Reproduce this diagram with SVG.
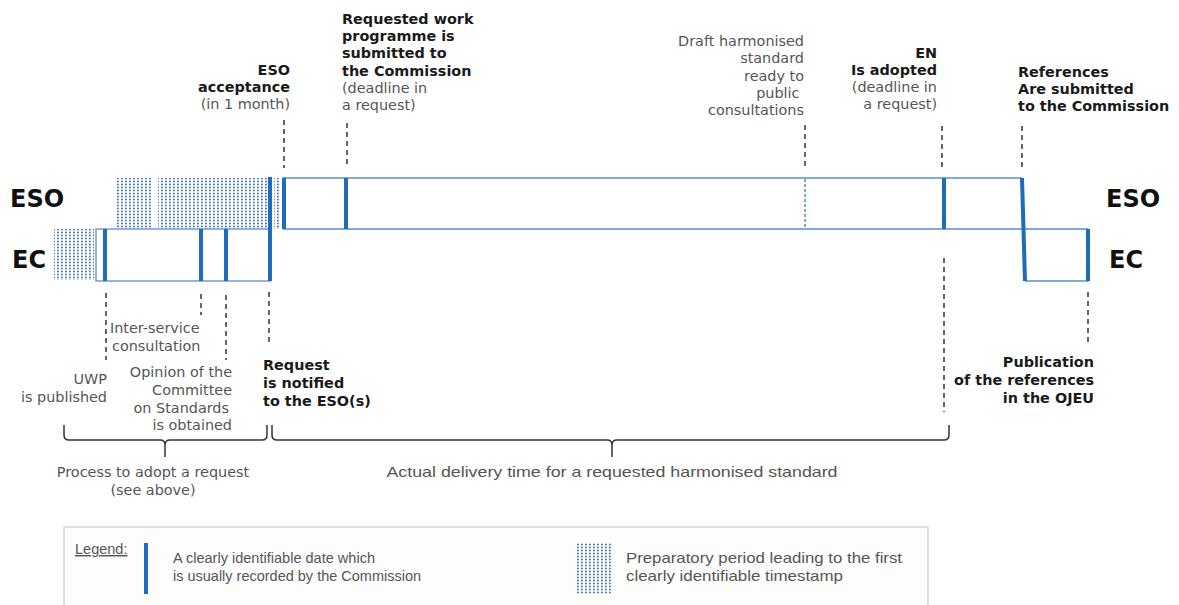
<svg xmlns="http://www.w3.org/2000/svg" width="1179" height="605" viewBox="0 0 1179 605">
<style>
.lbl{font-family:"DejaVu Sans",Verdana,sans-serif;font-size:14.4px;fill:#555}
.b{font-weight:bold;fill:#1a1a1a}
.big{font-family:"DejaVu Sans",Verdana,sans-serif;font-size:24px;font-weight:bold;fill:#111}
.leg{font-family:"Liberation Sans",Arial,sans-serif;font-size:14.5px;fill:#555}
.box{fill:none;stroke:#5b8fc9;stroke-width:1.3}
.date{stroke:#1f6db8;stroke-width:4;fill:none}
.lead{stroke:#333;stroke-width:1.5;stroke-dasharray:5,4;fill:none}
.brace{stroke:#333;stroke-width:1.5;fill:none}
</style>
<defs>
<pattern id="dots" width="4" height="3" patternUnits="userSpaceOnUse">
<rect x="1" y="0.7" width="1.8" height="1.6" fill="#3f70c0"/>
</pattern>
</defs>
<rect width="1179" height="605" fill="#fff"/>

<g id="lane-labels">
<text class="big" x="10" y="207">ESO</text>
<text class="big" x="12" y="268">EC</text>
<text class="big" x="1106" y="207">ESO</text>
<text class="big" x="1109" y="268">EC</text>
</g>

<g id="prep-periods">
<rect x="115" y="178" width="38" height="51" fill="url(#dots)"/>
<rect x="158" y="178" width="110" height="51" fill="url(#dots)"/>
<rect x="274" y="178" width="6" height="51" fill="url(#dots)"/>
<rect x="54" y="229" width="40" height="51" fill="url(#dots)"/>
</g>

<g id="ec-band-left">
<rect class="box" x="96" y="229" width="174" height="52"/>
</g>
<g id="eso-band">
<path class="box" d="M283,229 V178 H1022 M283,229 H1088"/>
</g>
<g id="ec-band-right">
<path class="box" d="M1025,281 H1088 V229"/>
</g>

<g id="dates">
<line class="date" x1="105" y1="229" x2="105" y2="281"/>
<line class="date" x1="201" y1="229" x2="201" y2="281"/>
<line class="date" x1="226" y1="229" x2="226" y2="281"/>
<line class="date" x1="270" y1="177" x2="270" y2="281"/>
<line class="date" x1="284" y1="178" x2="284" y2="229"/>
<line class="date" x1="346" y1="178" x2="346" y2="229"/>
<line x1="805" y1="179" x2="805" y2="229" stroke="#3a78c0" stroke-width="1.3" stroke-dasharray="3,2"/>
<line class="date" x1="944" y1="178" x2="944" y2="229"/>
<line class="date" x1="1022" y1="178" x2="1025" y2="281"/>
<line class="date" x1="1088" y1="229" x2="1088" y2="281"/>
</g>

<g id="connectors">
<line class="lead" x1="284" y1="120" x2="284" y2="168"/>
<line class="lead" x1="347" y1="123" x2="347" y2="166"/>
<line class="lead" x1="805" y1="125" x2="805" y2="168"/>
<line class="lead" x1="942" y1="126" x2="942" y2="170"/>
<line class="lead" x1="1022" y1="126" x2="1022" y2="168"/>
<line class="lead" x1="106" y1="293" x2="106" y2="360"/>
<line class="lead" x1="201" y1="294" x2="201" y2="315"/>
<line class="lead" x1="226" y1="295" x2="226" y2="360"/>
<line class="lead" x1="269" y1="292" x2="269" y2="343"/>
<line class="lead" x1="944" y1="258" x2="944" y2="412"/>
<line class="lead" x1="1088" y1="292" x2="1088" y2="346"/>
</g>

<g id="braces">
<path class="brace" d="M64,425 V435 Q64,440 69,440 H160 Q165,440 165,445 V457 M165,445 Q165,440 170,440 H262 Q267,440 267,435 V425"/>
<path class="brace" d="M272,425 V435 Q272,440 277,440 H607 Q612,440 612,445 V457 M612,445 Q612,440 617,440 H944 Q949,440 949,435 V425"/>
</g>

<g id="label-eso-acceptance">
<text class="lbl" text-anchor="end"><tspan class="b" x="290" y="75">ESO</tspan><tspan class="b" x="290" y="92">acceptance</tspan><tspan x="290" y="109">(in 1 month)</tspan></text>
</g>
<g id="label-work-programme">
<text class="lbl"><tspan class="b" x="342" y="24">Requested work</tspan><tspan class="b" x="342" y="41">programme is</tspan><tspan class="b" x="342" y="58">submitted to</tspan><tspan class="b" x="342" y="76">the Commission</tspan><tspan x="342" y="93">(deadline in</tspan><tspan x="342" y="110">a request)</tspan></text>
</g>
<g id="label-draft">
<text class="lbl" text-anchor="end"><tspan x="804" y="46">Draft harmonised</tspan><tspan x="804" y="63">standard</tspan><tspan x="804" y="81">ready to</tspan><tspan x="804" y="98">public </tspan><tspan x="804" y="115">consultations</tspan></text>
</g>
<g id="label-en-adopted">
<text class="lbl" text-anchor="end"><tspan class="b" x="937" y="58">EN</tspan><tspan class="b" x="937" y="75">Is adopted</tspan><tspan x="937" y="92">(deadline in</tspan><tspan x="937" y="109">a request)</tspan></text>
</g>
<g id="label-references">
<text class="lbl b"><tspan x="1018" y="77">References</tspan><tspan x="1018" y="94">Are submitted</tspan><tspan x="1018" y="111">to the Commission</tspan></text>
</g>
<g id="label-inter-service">
<text class="lbl"><tspan x="110" y="333">Inter-service</tspan><tspan x="112" y="351">consultation</tspan></text>
</g>
<g id="label-uwp">
<text class="lbl" text-anchor="end"><tspan x="107" y="384">UWP</tspan><tspan x="107" y="402">is published</tspan></text>
</g>
<g id="label-opinion">
<text class="lbl" text-anchor="end"><tspan x="232" y="377">Opinion of the</tspan><tspan x="232" y="395">Committee</tspan><tspan x="229" y="413">on Standards</tspan><tspan x="232" y="430">is obtained</tspan></text>
</g>
<g id="label-request-notified">
<text class="lbl b"><tspan x="263" y="370">Request</tspan><tspan x="263" y="388">is notified</tspan><tspan x="263" y="406">to the ESO(s)</tspan></text>
</g>
<g id="label-publication">
<text class="lbl b" text-anchor="end"><tspan x="1094" y="367">Publication</tspan><tspan x="1094" y="385">of  the references</tspan><tspan x="1094" y="403">in the OJEU</tspan></text>
</g>
<g id="label-process">
<text class="lbl" text-anchor="middle"><tspan x="153" y="477">Process to adopt a request</tspan><tspan x="153" y="495">(see above)</tspan></text>
</g>
<g id="label-delivery">
<text class="leg" x="612" y="477" text-anchor="middle" textLength="451" lengthAdjust="spacingAndGlyphs">Actual delivery time for  a requested harmonised standard</text>
</g>

<g id="legend">
<rect x="64" y="527" width="864" height="90" fill="#fdfdfd" stroke="#c9c9d6" stroke-width="1.2"/>
<text class="leg" x="75" y="554" text-decoration="underline">Legend:</text>
<line x1="146" y1="543" x2="146" y2="594" stroke="#1f6db8" stroke-width="4"/>
<text class="leg"><tspan x="173" y="563" textLength="202" lengthAdjust="spacingAndGlyphs">A clearly identifiable date which</tspan><tspan x="173" y="581" textLength="248" lengthAdjust="spacingAndGlyphs">is usually recorded by the Commission</tspan></text>
<rect x="576" y="543" width="37" height="51" fill="url(#dots)"/>
<text class="leg"><tspan x="626" y="563" textLength="276" lengthAdjust="spacingAndGlyphs">Preparatory period leading to the first</tspan><tspan x="626" y="581" textLength="217" lengthAdjust="spacingAndGlyphs">clearly identifiable timestamp</tspan></text>
</g>
</svg>
